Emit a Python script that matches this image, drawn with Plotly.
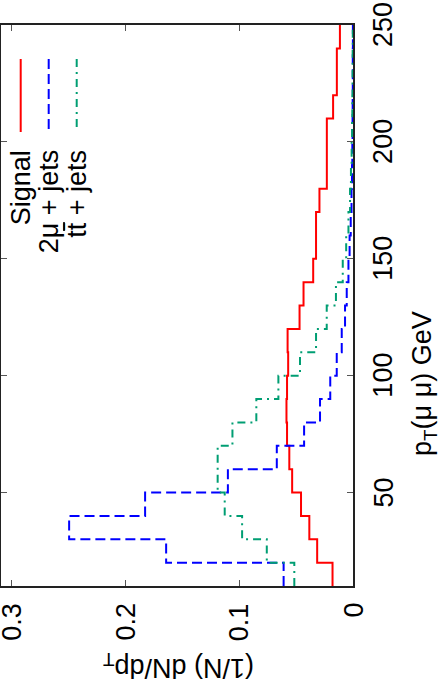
import plotly.graph_objects as go

# pT bin edges (GeV), 10 GeV bins from 10 to 250
pt_edges = [10, 20, 30, 40, 50, 60, 70, 80, 90, 100, 110, 120, 130, 140, 150,
            160, 170, 180, 190, 200, 210, 220, 230, 240, 250]

signal = [0.018, 0.0315, 0.0384, 0.0457, 0.0535, 0.056, 0.058, 0.0585, 0.058,
          0.057, 0.0575, 0.047, 0.0435, 0.035, 0.0325, 0.0325, 0.0295, 0.023,
          0.023, 0.023, 0.0175, 0.0142, 0.0142, 0.0115]
mumu_jets = [0.061, 0.1643, 0.2496, 0.1828, 0.110, 0.067, 0.043, 0.029, 0.020,
             0.0143, 0.0099, 0.007, 0.0055, 0.004, 0.003, 0.002, 0.0013, 0.0009,
             0.0006, 0.0004, 0.0003, 0.0002, 0.0002, 0.0001]
ttbar_jets = [0.0516, 0.0758, 0.0975, 0.1128, 0.119, 0.119, 0.106, 0.085, 0.0656,
              0.0466, 0.0325, 0.0231, 0.015, 0.009, 0.006, 0.004, 0.0026, 0.0018,
              0.0012, 0.0008, 0.0006, 0.0004, 0.0003, 0.0002]

series_names = ["Signal", "2μ + jets", "tt\u0304 + jets"]
series_vals = [signal, mumu_jets, ttbar_jets]
colors = ["#ff0000", "#0000ff", "#009e73"]
dashes = ["solid", "10px,5px", "8px,5px,2px,5px"]

x_ticks = [0, 0.1, 0.2, 0.3]
x_ticktext = ["0", "0.1", "0.2", "0.3"]
y_ticks = [50, 100, 150, 200, 250]
y_ticktext = ["50", "100", "150", "200", "250"]

FONT = "Liberation Sans, Arial, Helvetica, sans-serif"
FS = 27

fig = go.Figure()
for name, vals, c, d in zip(series_names, series_vals, colors, dashes):
    xs = list(vals) + [vals[-1]]
    ys = list(pt_edges)
    fig.add_trace(go.Scatter(x=xs, y=ys, mode="lines",
                             line=dict(color=c, width=2, dash=d, shape="vh"),
                             showlegend=False))

W, H = 438, 681
ML, MR, MT, MB = 1, 85, 25, 95
PW, PH = W - ML - MR, H - MT - MB

def px(xp):
    return (xp - ML) / PW

def py(yp):
    return (H - MB - yp) / PH

# legend (rotated like the rest of the picture)
leg_x = [20.7, 48.7, 76.7]
for name, c, d, lx in zip(series_names, colors, dashes, leg_x):
    fig.add_shape(type="line", xref="paper", yref="paper",
                  x0=px(lx), x1=px(lx), y0=py(59), y1=py(132),
                  line=dict(color=c, width=2, dash=d))
    fig.add_annotation(xref="paper", yref="paper", x=px(lx), y=py(148),
                       text=name, textangle=-90, showarrow=False,
                       xanchor="center", yanchor="top",
                       font=dict(family=FONT, size=FS, color="black"))
# overbar of the anti-top "t̄" (rotated with the text)
fig.add_shape(type="line", xref="paper", yref="paper",
              x0=px(64), x1=px(64), y0=py(222), y1=py(231),
              line=dict(color="black", width=1.6))

# rotated tick labels placed on the axes' own scales
for v, t in zip(x_ticks, x_ticktext):
    fig.add_annotation(xref="x", yref="paper", x=v, y=py(601), text=t,
                       textangle=-90, showarrow=False, xanchor="center",
                       yanchor="top", font=dict(family=FONT, size=FS, color="black"))
for v, t in zip(y_ticks, y_ticktext):
    fig.add_annotation(xref="paper", yref="y", x=px(366), y=v, text=t,
                       textangle=-90, showarrow=False, xanchor="left",
                       yanchor="middle", font=dict(family=FONT, size=FS, color="black"))

# axis titles
fig.add_annotation(xref="paper", yref="paper", x=px(424), y=py(384),
                   text="p<sub>T</sub>(μ μ) GeV", textangle=-90, showarrow=False,
                   xanchor="center", yanchor="middle",
                   font=dict(family=FONT, size=FS, color="black"))
fig.add_annotation(xref="paper", yref="paper", x=px(178), y=py(666),
                   text="(1/N) dN/dp<sub>T</sub>", textangle=180, showarrow=False,
                   xanchor="center", yanchor="middle",
                   font=dict(family=FONT, size=FS, color="black"))

fig.update_xaxes(range=[0.3095, 0], tickvals=x_ticks, showticklabels=False,
                 ticks="inside", ticklen=6, tickcolor="#555",
                 showline=True, linecolor="#222", linewidth=1.5, mirror="ticks",
                 showgrid=False, zeroline=False, automargin=False)
fig.update_yaxes(range=[10, 250], tickvals=y_ticks, showticklabels=False,
                 side="right", ticks="inside", ticklen=6,
                 tickcolor="#555", showline=True, linecolor="#222", linewidth=1.5,
                 mirror="ticks", showgrid=False, zeroline=False, automargin=False)

fig.update_layout(width=W, height=H, autosize=False,
                  margin=dict(l=ML, r=MR, t=MT, b=MB, pad=0, autoexpand=False),
                  paper_bgcolor="white", plot_bgcolor="white",
                  showlegend=False)

fig.write_html("out.html", config={"displayModeBar": False},
               post_script="document.body.style.margin='0';document.body.style.overflow='hidden';")
